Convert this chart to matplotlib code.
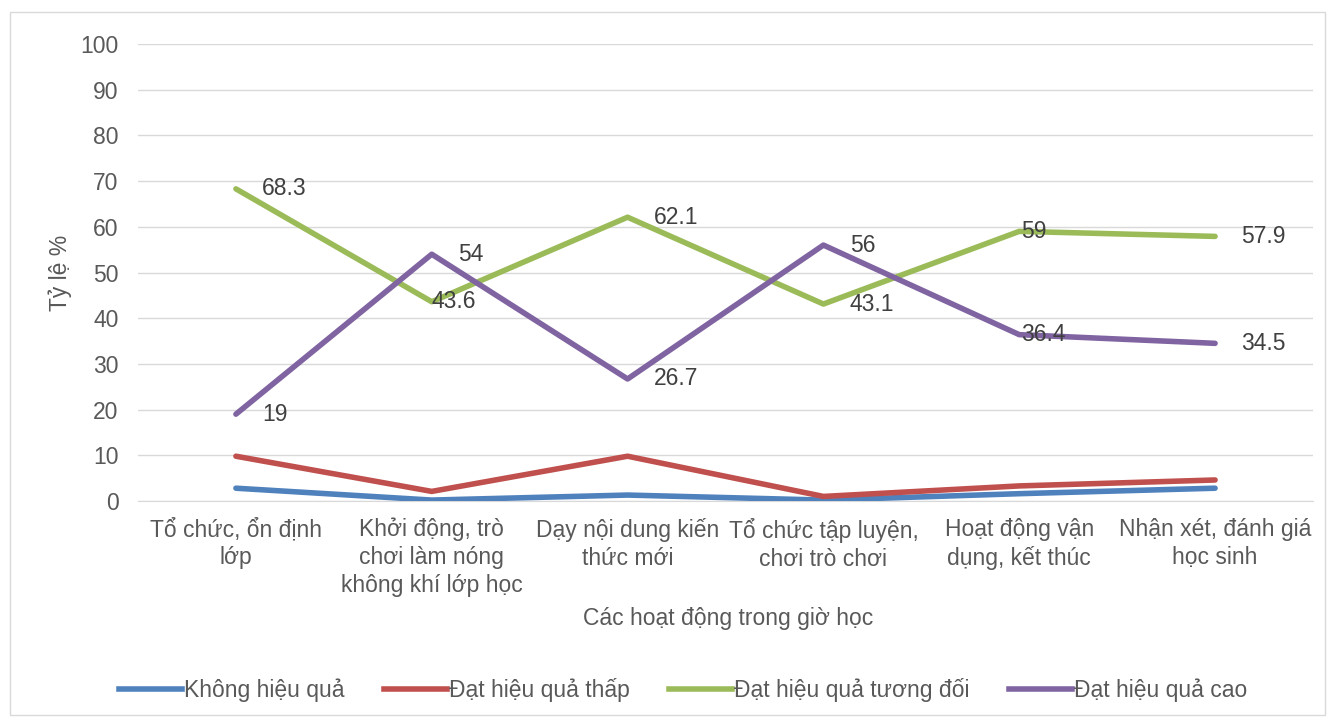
import matplotlib
matplotlib.use("Agg")
import matplotlib.pyplot as plt
from matplotlib.lines import Line2D
from matplotlib.patches import Rectangle

plt.rcParams['font.family'] = ['Liberation Sans', 'DejaVu Sans']

categories = [
    "Tổ chức, ổn định\nlớp",
    "Khởi động, trò\nchơi làm nóng\nkhông khí lớp học",
    "Dạy nội dung kiến\nthức mới",
    "Tổ chức tập luyện,\nchơi trò chơi",
    "Hoạt động vận\ndụng, kết thúc",
    "Nhận xét, đánh giá\nhọc sinh",
]
series_names = ["Không hiệu quả", "Đạt hiệu quả thấp", "Đạt hiệu quả tương đối", "Đạt hiệu quả cao"]
khong_hieu_qua = [2.8, 0.2, 1.3, 0.2, 1.6, 2.8]
hieu_qua_thap = [9.8, 2.1, 9.8, 1.0, 3.3, 4.6]
hieu_qua_tuong_doi = [68.3, 43.6, 62.1, 43.1, 59, 57.9]
hieu_qua_cao = [19, 54, 26.7, 56, 36.4, 34.5]
colors = ["#4F81BD", "#C0504D", "#9BBB59", "#8064A2"]

# label x-offsets (points) for the labelled series
green_dx = [19, 0, 19, 19, 1, 19]
purple_dx = [19, 19, 19, 19, 1, 19]

text_color = "#595959"
fs = 16.5

fig = plt.figure(figsize=(13.35, 7.22), dpi=100)
fig.patches.append(Rectangle((10 / 1335, 1 - 715 / 722), 1315 / 1335, 703 / 722,
                             transform=fig.transFigure, fill=False,
                             edgecolor="#D9D9D9", linewidth=1))
ax = fig.add_axes([138 / 1335, 1 - 501 / 722, 1175 / 1335, 457 / 722])

x = list(range(len(categories)))
all_series = [khong_hieu_qua, hieu_qua_thap, hieu_qua_tuong_doi, hieu_qua_cao]
for vals, col, name in zip(all_series, colors, series_names):
    ax.plot(x, vals, color=col, linewidth=4, solid_capstyle="round",
            solid_joinstyle="round", label=name, zorder=3)

for vals, dxs in ((hieu_qua_tuong_doi, green_dx), (hieu_qua_cao, purple_dx)):
    for xi, v, dx in zip(x, vals, dxs):
        ax.annotate(f"{v:g}", (xi, v), xytext=(dx, 0), textcoords="offset points",
                    ha="left", va="center", fontsize=fs, color="#404040", zorder=4)

ax.set_xlim(-0.5, len(categories) - 0.5)
ax.set_ylim(0, 100)
ax.set_yticks(range(0, 101, 10))
ax.set_xticks(x)
ax.set_xticklabels(categories, fontsize=fs, color=text_color, linespacing=1.28)
ax.tick_params(axis="y", length=0, pad=14, labelsize=fs, labelcolor=text_color)
ax.tick_params(axis="x", length=0, pad=12)
ax.grid(axis="y", color="#D9D9D9", linewidth=1)
ax.set_axisbelow(True)
for side in ("top", "right", "left"):
    ax.spines[side].set_visible(False)
ax.spines["bottom"].set_color("#D9D9D9")
ax.spines["bottom"].set_zorder(2)

ax.set_ylabel("Tỷ lệ %", fontsize=fs, color=text_color, labelpad=6)
fig.text(728 / 1335, 1 - 618 / 722, "Các hoạt động trong giờ học", ha="center",
         va="center", fontsize=fs, color=text_color)

handles = [Line2D([], [], color=c, linewidth=4) for c in colors]
fig.legend(handles, series_names, loc="center", bbox_to_anchor=(683 / 1335, 1 - 690 / 722),
           ncol=4, frameon=False, fontsize=fs, handlelength=2.75, handletextpad=0.1,
           columnspacing=1.7, labelcolor=text_color)

fig.savefig("out.png", dpi=100)
